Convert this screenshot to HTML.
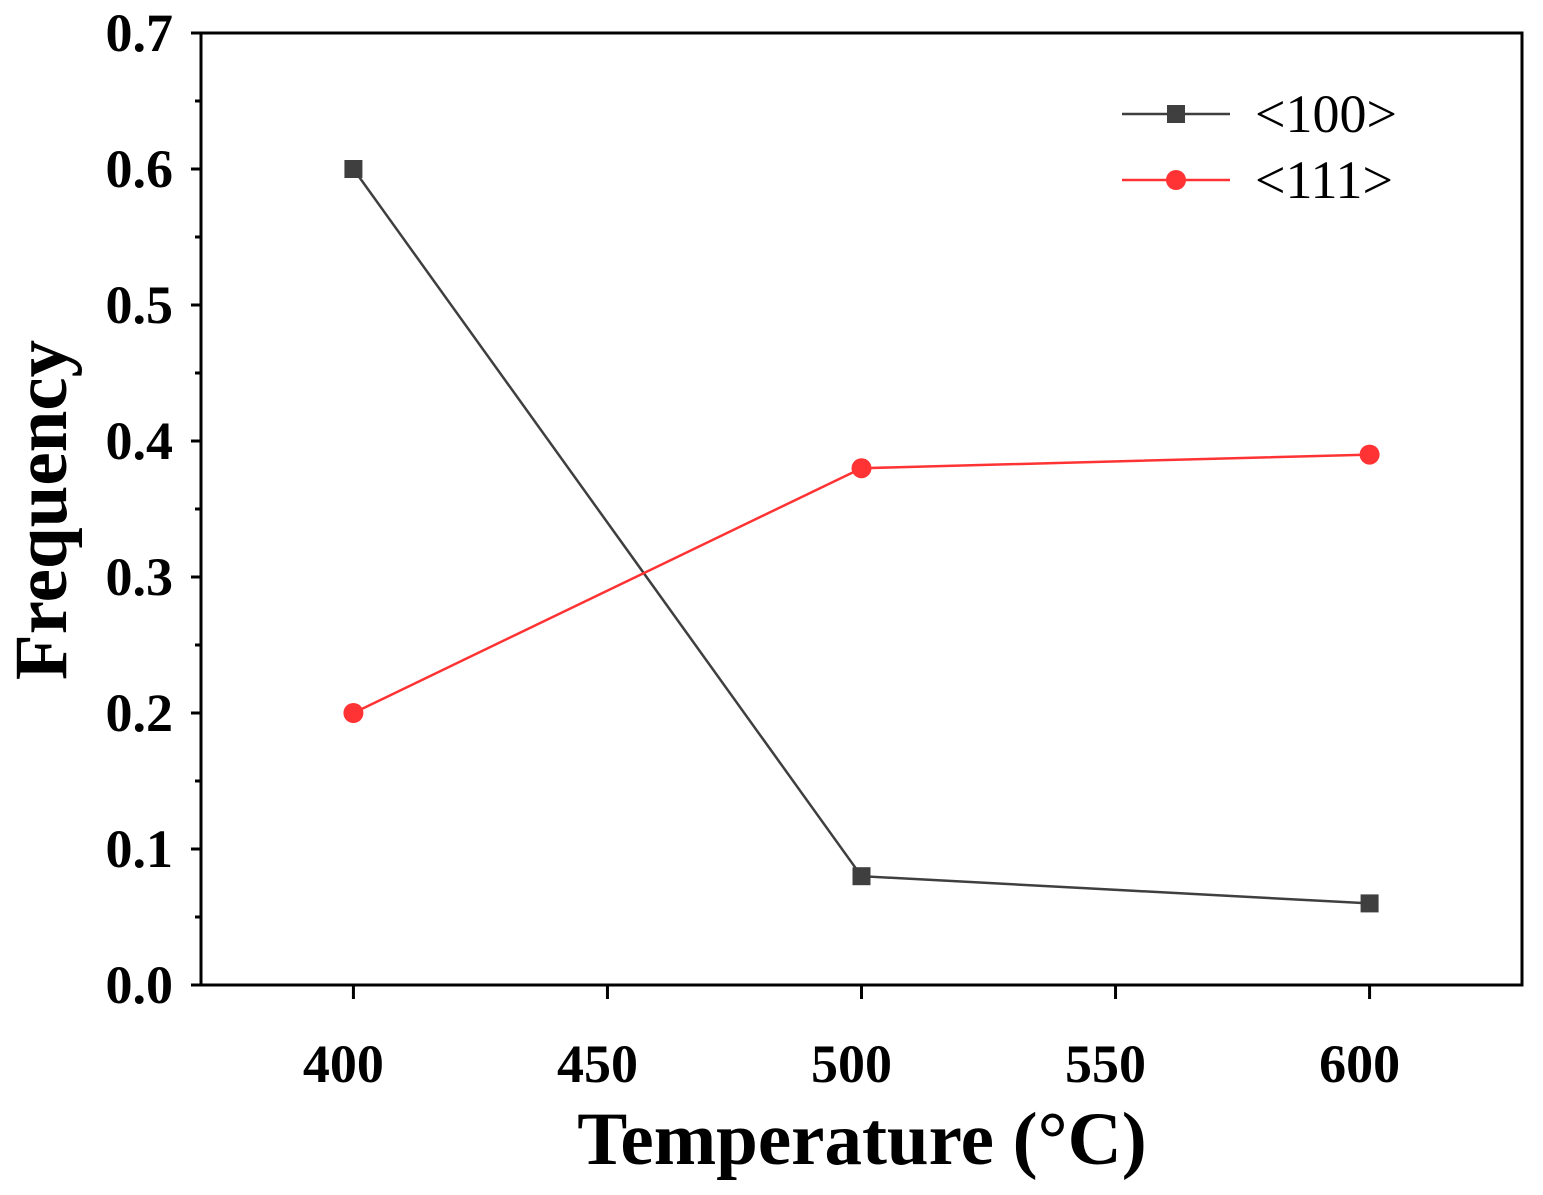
<!DOCTYPE html>
<html><head><meta charset="utf-8"><style>
html,body{margin:0;padding:0;background:#fff;}
svg{display:block;font-family:"Liberation Serif",serif;}
</style></head><body>
<svg id="chart" width="1543" height="1195" viewBox="0 0 1543 1195"></svg>
<script>
const categories = [400, 500, 600];
const series100 = [0.60, 0.08, 0.06];
const series111 = [0.20, 0.38, 0.39];
const xTicks = [400, 450, 500, 550, 600];
const yTicks = [0.0, 0.1, 0.2, 0.3, 0.4, 0.5, 0.6, 0.7];
const yTickLabels = ["0.0","0.1","0.2","0.3","0.4","0.5","0.6","0.7"];

const L=201,R=1522,T=33,B=985;
const xMin=370,xMax=630,yMin=0,yMax=0.7;
const xs=v=>L+(v-xMin)/(xMax-xMin)*(R-L);
const ys=v=>B-(v-yMin)/(yMax-yMin)*(B-T);
const svg=document.getElementById('chart');
const NS='http://www.w3.org/2000/svg';
function mk(tag,attrs,parent){const e=document.createElementNS(NS,tag);for(const k in attrs)e.setAttribute(k,attrs[k]);(parent||svg).appendChild(e);return e;}

const frame=mk('rect',{x:L,y:T,width:R-L,height:B-T,fill:'none',stroke:'#000','stroke-width':3});



yTicks.forEach((v,i)=>{
  const t=mk('line',{x1:L-10,x2:L,y1:ys(v),y2:ys(v),stroke:'#000','stroke-width':3});
  
  
  const lb=mk('text',{x:L-28,y:ys(v)+18,'text-anchor':'end','font-size':54,'font-weight':'bold'});
  lb.textContent=yTickLabels[i];
  
  
  if(i<yTicks.length-1){
    const m=mk('line',{x1:L-6,x2:L,y1:ys(v+0.05),y2:ys(v+0.05),stroke:'#000','stroke-width':3});
    
    
  }
});
xTicks.forEach(v=>{
  const t=mk('line',{x1:xs(v),x2:xs(v),y1:B,y2:B+14,stroke:'#000','stroke-width':3});
  
  
  const lb=mk('text',{x:xs(v)-10,y:1082,'text-anchor':'middle','font-size':54,'font-weight':'bold'});
  lb.textContent=v;
  
  
});
const xt=mk('text',{x:862,y:1164,'text-anchor':'middle','font-size':75,'font-weight':'bold'});
xt.textContent='Temperature (°C)';


const yt=mk('text',{x:0,y:0,'text-anchor':'middle','font-size':75,'font-weight':'bold',transform:'translate(66,510) rotate(-90)'});
yt.textContent='Frequency';



function drawSeries(vals,color,shape,name){
  const pts=categories.map((c,i)=>xs(c)+','+ys(vals[i])).join(' ');
  const pl=mk('polyline',{points:pts,fill:'none',stroke:color,'stroke-width':2.5});
  
  
  categories.forEach((c,i)=>{
    let m;
    if(shape==='square') m=mk('rect',{x:xs(c)-9,y:ys(vals[i])-9,width:18,height:18,fill:color});
    else m=mk('circle',{cx:xs(c),cy:ys(vals[i]),r:10,fill:color});
    
    
  });
}
drawSeries(series100,'#3f3f3f','square','series-100');
drawSeries(series111,'#ff3333','circle','series-111');

function legend(y,color,shape,label,name){
  const g=mk('g',{});
  
  
  mk('line',{x1:1122,x2:1230,y1:y,y2:y,stroke:color,'stroke-width':2.5},g);
  if(shape==='square') mk('rect',{x:1167,y:y-9,width:18,height:18,fill:color},g);
  else mk('circle',{cx:1176,cy:y,r:10,fill:color},g);
  const t=mk('text',{x:1255,y:y+18,'font-size':54},g);
  t.textContent=label;
}
legend(114,'#3f3f3f','square','<100>','legend-entry-100');
legend(180,'#ff3333','circle','<111>','legend-entry-111');
</script>
</body></html>
